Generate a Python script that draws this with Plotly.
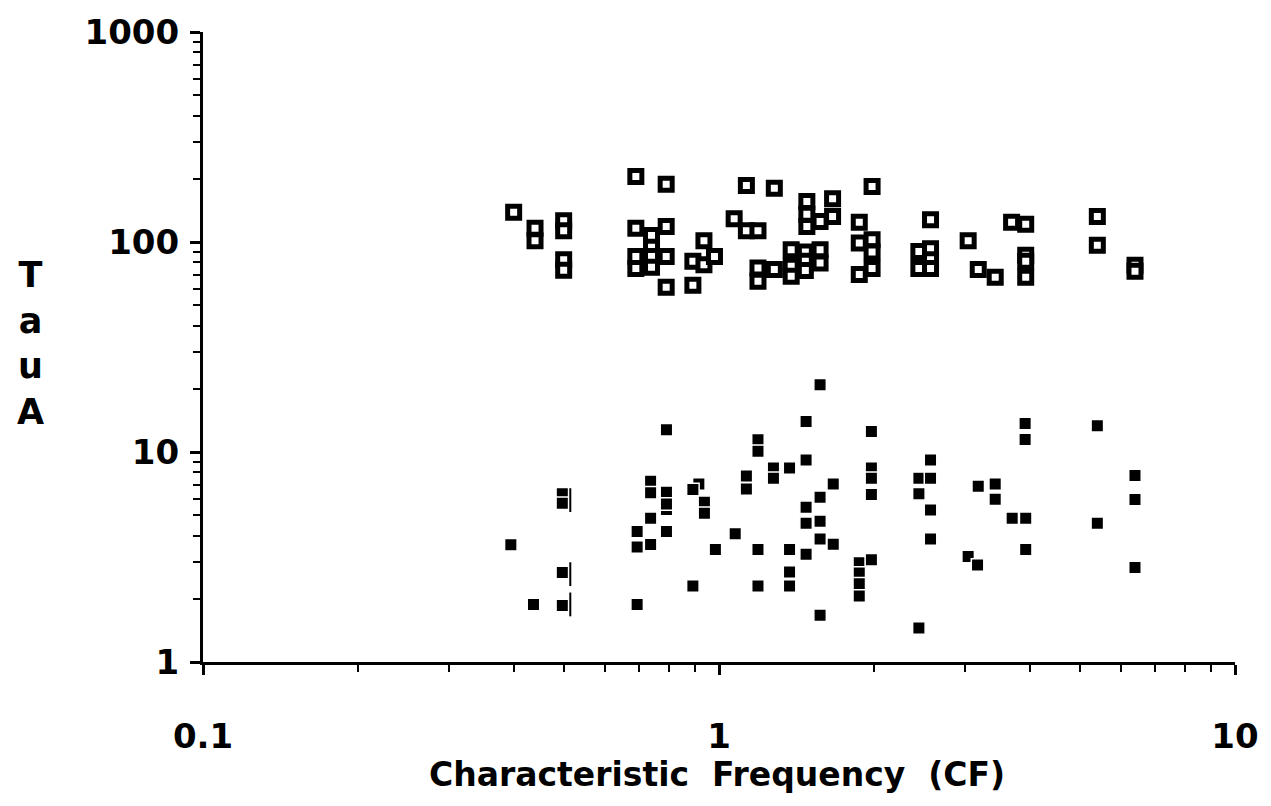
import plotly.graph_objects as go

# Open squares (upper cluster)
open_cf = [0.40, 0.44, 0.44, 0.50, 0.50, 0.50, 0.50,
           0.69, 0.79, 0.69, 0.79, 0.74, 0.74, 0.69, 0.74, 0.69, 0.74, 0.79, 0.79,
           0.935, 0.89, 0.935, 0.98, 0.89,
           1.07, 1.13, 1.19, 1.13, 1.28, 1.19, 1.19, 1.28,
           1.48, 1.48, 1.48, 1.57, 1.66, 1.66,
           1.98, 1.87, 1.87, 1.87, 1.98, 1.98, 1.98,
           1.38, 1.38, 1.38, 1.47, 1.47, 1.47, 1.57, 1.57,
           2.57, 2.44, 2.57, 2.57, 2.44, 2.57,
           3.04, 3.18, 3.43, 3.69, 3.93, 3.93, 3.93, 3.93,
           5.41, 5.41, 6.40, 6.40]
open_tau = [138.7, 116.4, 101.4, 126.2, 113.1, 82.4, 73.3,
            205, 188.3, 116.4, 118.6, 107.5, 94.3, 85.4, 85.4, 74.7, 75.8, 85.4, 60.9,
            101.4, 80.9, 78.0, 85.4, 62.2,
            129, 113.1, 113.1, 185.6, 180.3, 75.2, 65.0, 73.9,
            156, 135.6, 118.6, 125.2, 160.6, 132.3,
            183.6, 124.3, 98.8, 70.0, 102.5, 89.5, 74.7,
            91.9, 76.6, 68.7, 89.5, 80.9, 73.1, 91.9, 79.4,
            127.6, 90.2, 92.8, 82.4, 74.7, 74.7,
            101.4, 73.9, 67.9, 124.3, 121.6, 86.4, 80.9, 67.9,
            132.3, 96.4, 77.5, 72.5]

# Filled squares (lower cluster)
filled_cf = [0.395, 0.437, 0.497, 0.497, 0.497, 0.497,
             0.791, 0.737, 0.737, 0.791, 0.791, 0.791, 0.737, 0.694, 0.694, 0.737, 0.791,
             0.914, 0.89, 0.937, 0.937, 0.984, 0.89, 0.694,
             1.075, 1.13, 1.13, 1.19, 1.19, 1.19, 1.19, 1.275, 1.275,
             1.57, 1.475, 1.974, 1.475, 1.37, 1.974, 1.974, 1.974, 1.665, 1.57, 1.475,
             1.475, 1.57, 1.57, 1.665, 1.37, 1.475, 1.37, 1.37, 1.57,
             1.87, 1.87, 1.87, 1.87, 1.974,
             2.57, 2.44, 2.57, 2.44, 2.57, 2.57, 2.44,
             3.92, 3.92, 3.18, 3.43, 3.43, 3.70, 3.93, 3.93, 3.04, 3.17,
             5.41, 5.41, 6.40, 6.40, 6.40]
filled_tau = [3.62, 1.88, 6.32, 5.70, 2.67, 1.86,
              12.76, 7.25, 6.39, 6.43, 5.32, 5.66, 4.84, 4.18, 3.53, 3.63, 4.18,
              7.05, 6.62, 5.77, 5.11, 3.43, 2.30, 1.88,
              4.08, 7.69, 6.67, 11.44, 10.07, 3.43, 2.30, 8.40, 7.49,
              20.9, 13.97, 12.53, 9.17, 8.40, 8.40, 7.49, 6.27, 7.05, 6.09, 5.46,
              4.58, 4.68, 3.85, 3.64, 3.43, 3.26, 2.68, 2.30, 1.67,
              2.97, 2.65, 2.36, 2.06, 3.07,
              9.17, 7.49, 7.49, 6.32, 5.30, 3.85, 1.45,
              13.67, 11.48, 6.87, 7.05, 5.96, 4.84, 4.84, 3.43, 3.18, 2.90,
              13.33, 4.58, 7.72, 5.94, 2.82]

# Small vertical bars beside the CF = 0.5 filled squares
bar_cf = [0.515, 0.515, 0.515]
bar_tau = [5.90, 2.62, 1.88]

x_tickvals = [0.1, 1, 10]
x_ticktext = ["0.1", "1", "10"]
x_minor = [0.2, 0.3, 0.4, 0.5, 0.6, 0.7, 0.8, 0.9, 2, 3, 4, 5, 6, 7, 8, 9]
y_tickvals = [1, 10, 100, 1000]
y_ticktext = ["1", "10", "100", "1000"]
y_minor = [2, 3, 4, 5, 6, 7, 8, 9, 20, 30, 40, 50, 60, 70, 80, 90,
           200, 300, 400, 500, 600, 700, 800, 900]

FONT = "DejaVu Sans"

fig = go.Figure()
fig.add_trace(go.Scatter(
    x=open_cf, y=open_tau, mode="markers",
    marker=dict(symbol="square", size=12, color="white",
                line=dict(color="black", width=5)),
    showlegend=False, hoverinfo="x+y"))
fig.add_trace(go.Scatter(
    x=filled_cf, y=filled_tau, mode="markers",
    marker=dict(symbol="square", size=12.5, color="black",
                line=dict(color="white", width=1.5)),
    showlegend=False, hoverinfo="x+y"))
fig.add_trace(go.Scatter(
    x=bar_cf, y=bar_tau, mode="markers",
    marker=dict(symbol="line-ns", size=17,
                line=dict(color="black", width=2)),
    showlegend=False, hoverinfo="skip"))

axis_common = dict(
    type="log", showgrid=False, zeroline=False,
    showline=True, linecolor="black", linewidth=3,
    ticks="outside", ticklen=10, tickwidth=2.5, tickcolor="black",
    tickfont=dict(family=FONT, size=34, color="black", weight="bold"),
)

fig.update_xaxes(range=[-1, 1], tickmode="array", tickvals=x_tickvals, ticktext=x_ticktext,
                 minor=dict(tickmode="array", tickvals=x_minor, ticks="outside",
                            ticklen=7, tickwidth=2, tickcolor="black", showgrid=False),
                 ticklabelstandoff=32, **axis_common)
fig.update_yaxes(range=[0, 3], tickmode="array", tickvals=y_tickvals, ticktext=y_ticktext,
                 minor=dict(tickmode="array", tickvals=y_minor, ticks="outside",
                            ticklen=7, tickwidth=2, tickcolor="black", showgrid=False),
                 ticklabelstandoff=4, **axis_common)

fig.add_annotation(text="Characteristic  Frequency  (CF)", xref="paper", yref="paper",
                   x=0.4976, y=-0.179, showarrow=False,
                   font=dict(family=FONT, size=33, color="black", weight="bold"),
                   xanchor="center", yanchor="middle")
fig.add_annotation(text="T<br>a<br>u<br>A", xref="paper", yref="paper",
                   x=-0.1675, y=0.506, showarrow=False, align="center",
                   font=dict(family=FONT, size=35, color="black", weight="bold"),
                   xanchor="center", yanchor="middle")

fig.update_layout(
    width=1271, height=806,
    margin=dict(l=203, r=35, t=30, b=144),
    plot_bgcolor="white", paper_bgcolor="white",
    showlegend=False,
)

fig.write_html("out.html")
